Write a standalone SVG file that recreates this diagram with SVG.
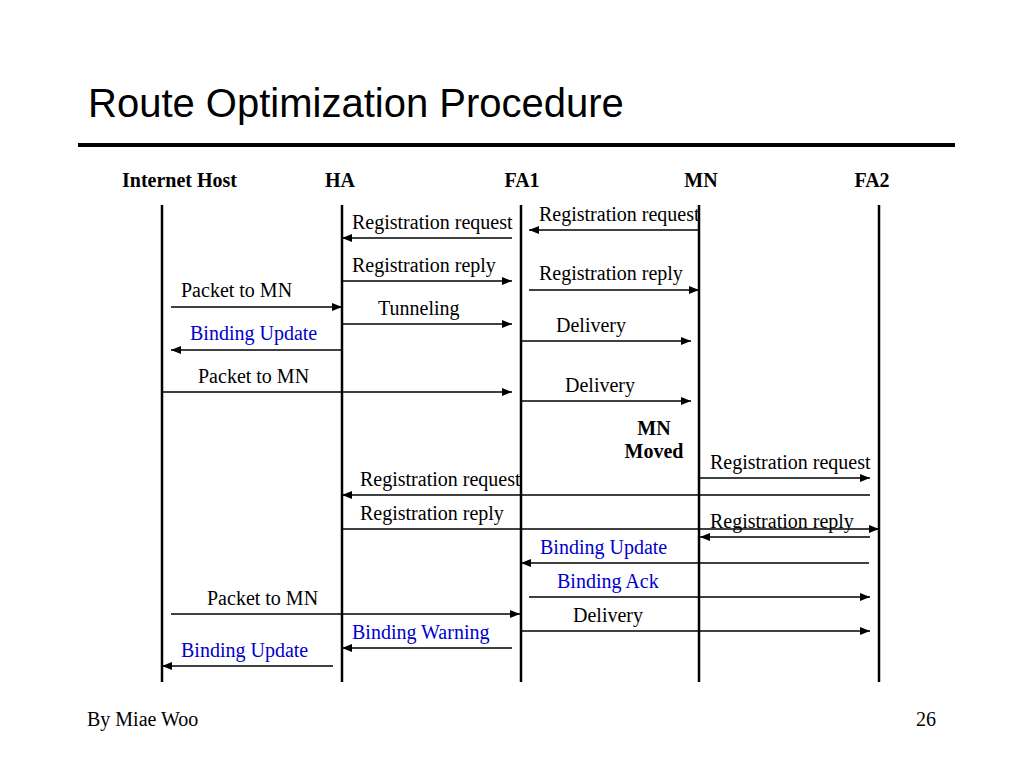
<svg xmlns="http://www.w3.org/2000/svg" width="1024" height="768" viewBox="0 0 1024 768">
<defs>
<marker id="ah" viewBox="0 0 10 8" refX="10" refY="4" markerWidth="10" markerHeight="8" markerUnits="userSpaceOnUse" orient="auto">
<path d="M0,0 L10,4 L0,8 z" fill="#000"/>
</marker>
<style>
.life{stroke:#000;stroke-width:2.5;fill:none}
.msg{stroke:#000;stroke-width:1.5;fill:none;marker-end:url(#ah)}
.lbl{font-family:"Liberation Serif","Times New Roman",serif;font-size:20px;fill:#000}
.blue{fill:#0000cc}
.hdr{font-family:"Liberation Serif","Times New Roman",serif;font-size:20px;font-weight:bold;fill:#000}
.title{font-family:"Liberation Sans",Arial,sans-serif;font-size:40px;fill:#000}
</style>
</defs>
<rect width="1024" height="768" fill="#fff"/>
<text class="title" x="88" y="117">Route Optimization Procedure</text>
<line x1="78" y1="145" x2="955" y2="145" stroke="#000" stroke-width="4"/>

<g id="internet-host">
<text class="hdr" x="122" y="187">Internet Host</text>
<line class="life" x1="162" y1="205" x2="162" y2="682"/>
</g>
<g id="ha">
<text class="hdr" x="340" y="187" text-anchor="middle">HA</text>
<line class="life" x1="342" y1="205" x2="342" y2="682"/>
</g>
<g id="fa1">
<text class="hdr" x="522" y="187" text-anchor="middle">FA1</text>
<line class="life" x1="521" y1="205" x2="521" y2="682"/>
</g>
<g id="mn">
<text class="hdr" x="701" y="187" text-anchor="middle">MN</text>
<line class="life" x1="699" y1="205" x2="699" y2="682"/>
</g>
<g id="fa2">
<text class="hdr" x="872" y="187" text-anchor="middle">FA2</text>
<line class="life" x1="879" y1="205" x2="879" y2="682"/>
</g>
<g id="mn-moved">
<text class="hdr" x="654" y="435" text-anchor="middle">MN</text>
<text class="hdr" x="654" y="458" text-anchor="middle">Moved</text>
</g>

<g id="connectors">
<line class="msg" x1="699" y1="230" x2="529" y2="230"/>
<line class="msg" x1="512" y1="238" x2="342" y2="238"/>
<line class="msg" x1="342" y1="281" x2="512" y2="281"/>
<line class="msg" x1="529" y1="290" x2="699" y2="290"/>
<line class="msg" x1="171" y1="307" x2="342" y2="307"/>
<line class="msg" x1="342" y1="324" x2="512" y2="324"/>
<line class="msg" x1="521" y1="341" x2="691" y2="341"/>
<line class="msg" x1="342" y1="350" x2="171" y2="350"/>
<line class="msg" x1="162" y1="392" x2="512" y2="392"/>
<line class="msg" x1="521" y1="401" x2="691" y2="401"/>
<line class="msg" x1="699" y1="478" x2="870" y2="478"/>
<line class="msg" x1="870" y1="495" x2="342" y2="495"/>
<line class="msg" x1="342" y1="529" x2="879" y2="529"/>
<line class="msg" x1="870" y1="537" x2="700" y2="537"/>
<line class="msg" x1="869" y1="563" x2="521" y2="563"/>
<line class="msg" x1="529" y1="597" x2="870" y2="597"/>
<line class="msg" x1="171" y1="614" x2="520" y2="614"/>
<line class="msg" x1="521" y1="631" x2="870" y2="631"/>
<line class="msg" x1="512" y1="648" x2="342" y2="648"/>
<line class="msg" x1="333" y1="666" x2="162" y2="666"/>
</g>

<g id="labels">
<text class="lbl" x="539" y="221">Registration request</text>
<text class="lbl" x="352" y="229">Registration request</text>
<text class="lbl" x="352" y="272">Registration reply</text>
<text class="lbl" x="539" y="280">Registration reply</text>
<text class="lbl" x="181" y="297">Packet to MN</text>
<text class="lbl" x="378" y="315">Tunneling</text>
<text class="lbl" x="556" y="332">Delivery</text>
<text class="lbl blue" x="190" y="340">Binding Update</text>
<text class="lbl" x="198" y="383">Packet to MN</text>
<text class="lbl" x="565" y="392">Delivery</text>
<text class="lbl" x="710" y="469">Registration request</text>
<text class="lbl" x="360" y="486">Registration request</text>
<text class="lbl" x="360" y="520">Registration reply</text>
<text class="lbl" x="710" y="528">Registration reply</text>
<text class="lbl blue" x="540" y="554">Binding Update</text>
<text class="lbl blue" x="557" y="588">Binding Ack</text>
<text class="lbl" x="207" y="605">Packet to MN</text>
<text class="lbl" x="573" y="622">Delivery</text>
<text class="lbl blue" x="352" y="639">Binding Warning</text>
<text class="lbl blue" x="181" y="657">Binding Update</text>
</g>

<text class="lbl" x="87" y="726">By Miae Woo</text>
<text class="lbl" x="936" y="726" text-anchor="end">26</text>
</svg>
